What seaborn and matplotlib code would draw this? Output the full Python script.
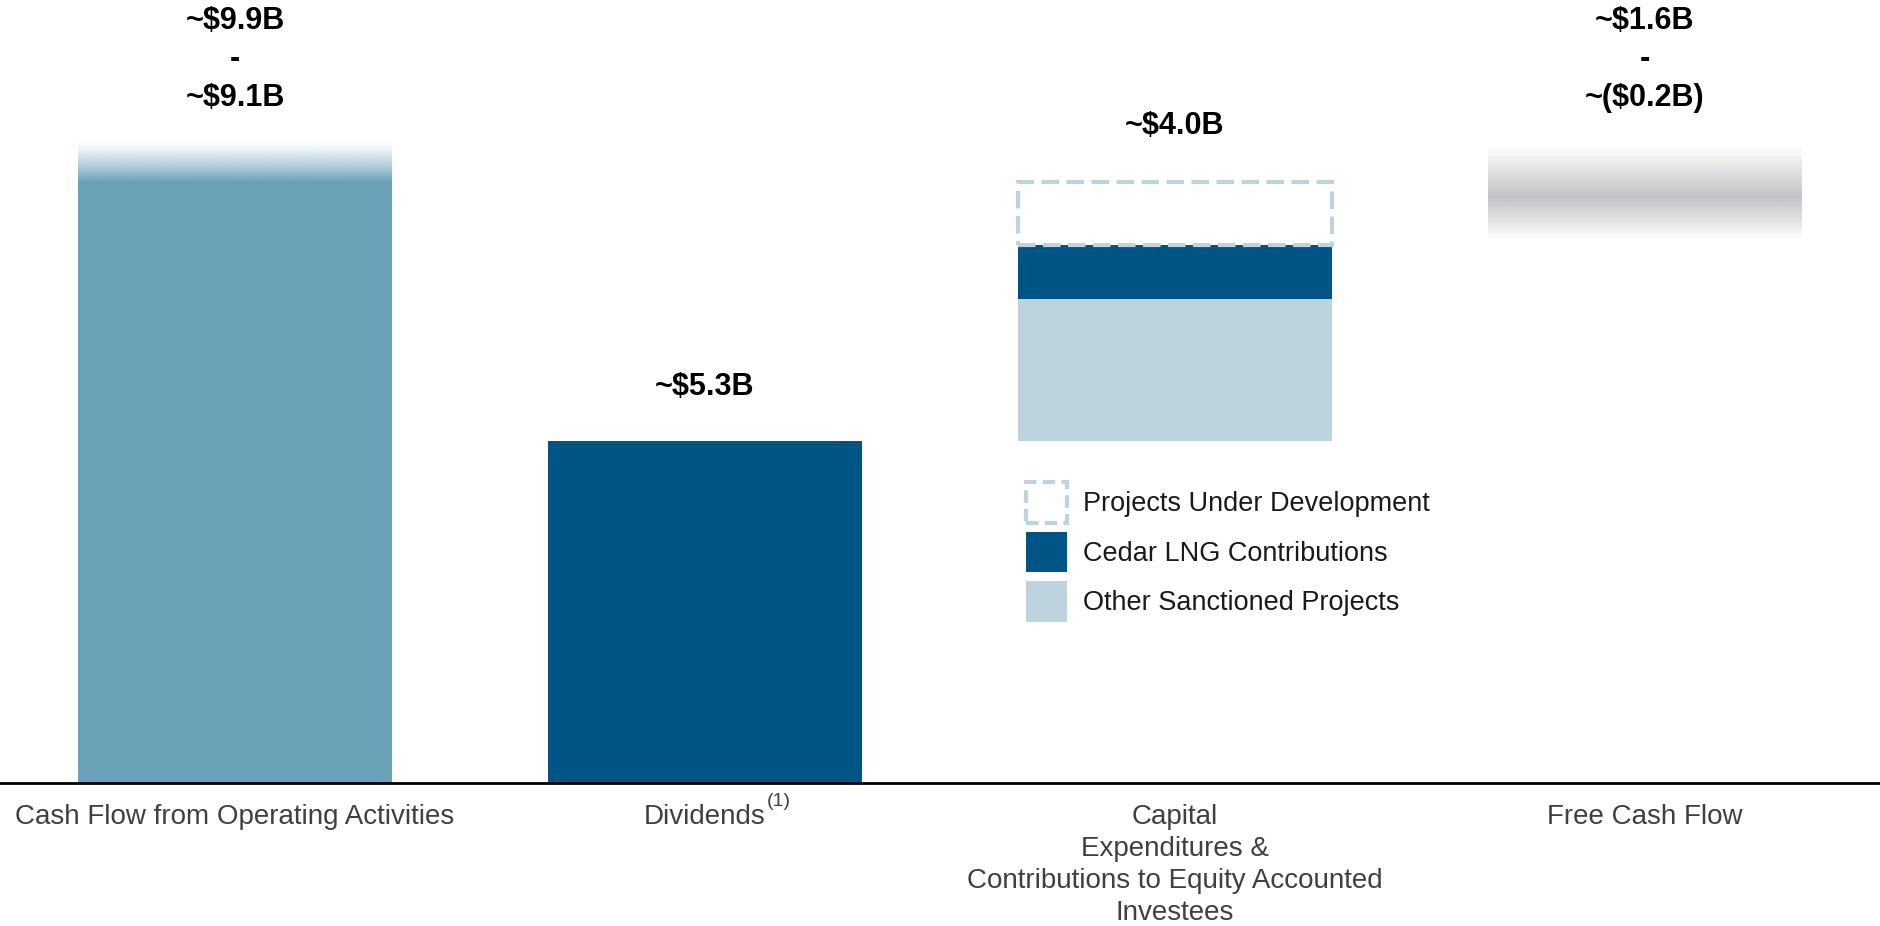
import numpy as np
import pandas as pd
import matplotlib
matplotlib.use("Agg")
import matplotlib.pyplot as plt
import seaborn as sns
from matplotlib.patches import Patch

# ---------------- data ----------------
categories = ["Cash Flow from Operating Activities", "Dividends",
              "Capital\nExpenditures &\nContributions to Equity Accounted\nInvestees",
              "Free Cash Flow"]
cfo_labels = ["~\\$9.9B", "-", "~\\$9.1B"]
cfo_bar = [9.3, 9.95]          # solid top, faded top
dividends = 5.3
div_label = "~\\$5.3B"
capex_label = "~\\$4.0B"
capex_other = 2.2              # Other Sanctioned Projects
capex_cedar = 0.83             # Cedar LNG Contributions
capex_pud = 0.97               # Projects Under Development
fcf_labels = ["~\\$1.6B", "-", "~(\\$0.2B)"]
fcf_band = [8.4, 9.06, 9.85]   # bottom, darkest, top of shaded band
legend_labels = ["Projects Under Development", "Cedar LNG Contributions", "Other Sanctioned Projects"]

# ---------------- style ----------------
C_CFO = "#6aa3b8"
C_DARK = "#005587"
C_LIGHT = "#bdd3de"
C_GREY = "#c2c3c7"

sns.set_theme(style="white")
plt.rcParams["font.family"] = ["Liberation Sans", "DejaVu Sans"]

W, H = 1880, 926
fig = plt.figure(figsize=(W / 100, H / 100), dpi=100)
base_px = 783
ax = fig.add_axes([0, 1 - base_px / H, 1, base_px / H])
px_per_b = 64.6
ymax = base_px / px_per_b
bw = 0.668

df = pd.DataFrame({"cat": categories[:2], "val": [cfo_bar[0], dividends]})
sns.barplot(data=df, x="cat", y="val", order=categories, hue="cat",
            palette=[C_CFO, C_DARK], width=bw, ax=ax, legend=False,
            saturation=1, edgecolor="none")

# capex stack
ax.bar(2, capex_other, bottom=dividends, width=bw, color=C_LIGHT, edgecolor="none", zorder=2)
ax.bar(2, capex_cedar, bottom=dividends + capex_other, width=bw, color=C_DARK, edgecolor="none", zorder=2)
ax.bar(2, capex_pud, bottom=dividends + capex_other + capex_cedar, width=bw, color="white",
       edgecolor=C_LIGHT, linewidth=3, linestyle=(0, (4.2, 1.8)), zorder=3)

# CFO fade
rgb = np.array(matplotlib.colors.to_rgb(C_CFO))
n = 200
alpha = np.linspace(1, 0, n) ** 1.3
img = np.zeros((n, 2, 4))
img[:, :, :3] = rgb
img[:, :, 3] = alpha[:, None]
ax.imshow(img, extent=[-bw / 2, bw / 2, cfo_bar[0], cfo_bar[1]], origin="lower",
          aspect="auto", zorder=2, interpolation="bilinear")

# FCF band
rgb = np.array(matplotlib.colors.to_rgb(C_GREY))
t = np.linspace(fcf_band[0], fcf_band[2], n)
a = np.where(t <= fcf_band[1], (t - fcf_band[0]) / (fcf_band[1] - fcf_band[0]),
             (fcf_band[2] - t) / (fcf_band[2] - fcf_band[1]))
img2 = np.zeros((n, 2, 4))
img2[:, :, :3] = rgb
img2[:, :, 3] = np.clip(a, 0, 1)[:, None]
ax.imshow(img2, extent=[3 - bw / 2, 3 + bw / 2, fcf_band[0], fcf_band[2]], origin="lower",
          aspect="auto", zorder=2, interpolation="bilinear")

ax.set_xlim(-0.5, 3.5)
ax.set_ylim(0, ymax)

# value labels
lab_kw = dict(textcoords="offset points", ha="center", va="baseline",
              fontsize=22, fontweight="bold", color="black")
def px(v):
    return v * 0.72

for lbl, off in zip(cfo_labels, [111, 73, 34]):
    ax.annotate(lbl, xy=(0, cfo_bar[1]), xytext=(0, px(off)), **lab_kw)
ax.annotate(div_label, xy=(1, dividends), xytext=(0, px(46)), **lab_kw)
ax.annotate(capex_label, xy=(2, dividends + capex_other + capex_cedar + capex_pud),
            xytext=(0, px(48)), **lab_kw)
for lbl, off in zip(fcf_labels, [118, 80, 41]):
    ax.annotate(lbl, xy=(3, fcf_band[2]), xytext=(0, px(off)), **lab_kw)

# axes
for s in ["top", "left", "right"]:
    ax.spines[s].set_visible(False)
ax.spines["bottom"].set_color("black")
ax.spines["bottom"].set_linewidth(2)
ax.set_yticks([])
ax.set_xlabel("")
ax.set_ylabel("")
ax.set_xticks(range(4))
ax.set_xticklabels(categories, fontsize=20, color="#404040", linespacing=1.3)
ax.tick_params(axis="x", length=0, pad=15)
fig.text(767 / W, 1 - 793 / H, "(1)", fontsize=14, color="#404040", ha="left", va="top")

# legend
handles = [Patch(facecolor="white", edgecolor=C_LIGHT, linewidth=3, linestyle=(0, (3, 1.5))),
           Patch(facecolor=C_DARK, edgecolor="none"),
           Patch(facecolor=C_LIGHT, edgecolor="none")]
ax.legend(handles, legend_labels, loc="upper left",
          bbox_to_anchor=(1026 / W, 1 - 482 / H), bbox_transform=fig.transFigure,
          frameon=False, borderpad=0, borderaxespad=0, handlelength=1.53,
          handleheight=1.93, labelspacing=0.33, handletextpad=0.56, fontsize=19.5,
          labelcolor="#1a1a1a")

fig.savefig("out.png", dpi=100)
